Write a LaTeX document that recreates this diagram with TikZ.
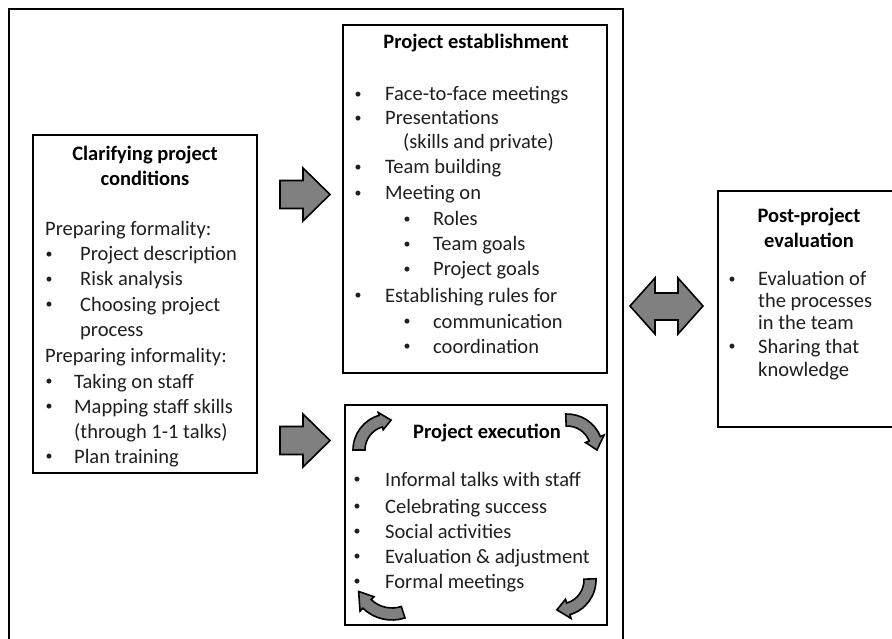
\documentclass[tikz,border=0pt]{standalone}
\usepackage{fontspec}
\setmainfont{Carlito}
\usetikzlibrary{calc}
\definecolor{txt}{rgb}{0.12,0.12,0.12}
\definecolor{arrfill}{rgb}{0.50,0.50,0.50}
\newcommand{\curvedarrow}[9]{%
% #1 cx, #2 cy, #3 r1, #4 r2, #5 e (head overhang), #6 tail angle, #7 head base angle, #8 tip angle, #9 name
\path (#1,#2) coordinate (#9);
\draw[blockarrow, shift={(#9)}]
  (#6:#4 pt) arc[start angle=#6, end angle=#7, radius=#4 pt]
  -- (#7:#4 pt + #5 pt) -- (#8:#3 pt/2 + #4 pt/2) -- (#7:#3 pt - #5 pt)
  -- (#7:#3 pt) arc[start angle=#7, end angle=#6, radius=#3 pt] -- cycle;}
\newcommand{\bl}{\raisebox{2.2pt}{\fontsize{14}{16}\selectfont •}}
\begin{document}
\begin{tikzpicture}[x=1pt,y=-1pt,
  box/.style={draw=black, line width=2.4pt, fill=white, inner sep=0pt},
  blockarrow/.style={draw=black, line width=1.6pt, fill=arrfill, line join=miter},
  ln/.style={anchor=base west, inner sep=0pt, font=\fontsize{20.5}{24}\selectfont, text=txt},
  ttl/.style={anchor=base, inner sep=0pt, font=\fontsize{20.5}{24}\selectfont\bfseries, text=black},
  bul/.style={anchor=base, inner sep=0pt, font=\fontsize{20.5}{24}\selectfont, text=txt}]
\useasboundingbox (0,0) rectangle (892,639);
\fill[white] (0,0) rectangle (892,639);

% outer frame (bottom edge lies below the picture)
\draw[line width=2.6pt] (9,650) -- (9,9) -- (623,9) -- (623,650);

% boxes
\node[box, minimum width=224pt, minimum height=338pt] (clar) at (145,304) {};
\node[box, minimum width=264pt, minimum height=348pt] (est) at (475,199) {};
\node[box, minimum width=262pt, minimum height=220pt] (exe) at (476,515) {};
\node[box, minimum width=200pt, minimum height=236pt] (post) at (818,309) {};

% Clarifying project conditions
\node[ttl] (c0) at (145,161) {Clarifying project};
\node[ttl] (c1) at (145,186) {conditions};
\node[ln] (c2) at (45,236) {Preparing formality:};
\node[bul] (cb1) at (49,261) {\bl}; \node[ln] (c3) at (80,261) {Project description};
\node[bul] (cb2) at (49,286) {\bl}; \node[ln] (c4) at (80,286) {Risk analysis};
\node[bul] (cb3) at (49,311) {\bl}; \node[ln] (c5) at (80,311) {Choosing project};
\node[ln] (c6) at (80,336) {process};
\node[ln] (c7) at (45,362) {Preparing informality:};
\node[bul] (cb4) at (49,388) {\bl}; \node[ln] (c8) at (74,388) {Taking on staff};
\node[bul] (cb5) at (49,413) {\bl}; \node[ln] (c9) at (74,413) {Mapping staff skills};
\node[ln] (c10) at (74,438) {(through 1-1 talks)};
\node[bul] (cb6) at (49,463) {\bl}; \node[ln] (c11) at (74,463) {Plan training};

% Project establishment
\node[ttl] (e0) at (476,49) {Project establishment};
\node[bul] (eb1) at (358,101) {\bl}; \node[ln] (e1) at (385,101) {Face-to-face meetings};
\node[bul] (eb2) at (358,125) {\bl}; \node[ln] (e2) at (385,125) {Presentations};
\node[ln] (e3) at (403,149) {(skills and private)};
\node[bul] (eb3) at (358,174) {\bl}; \node[ln] (e4) at (385,174) {Team building};
\node[bul] (eb4) at (358,200) {\bl}; \node[ln] (e5) at (385,200) {Meeting on};
\node[bul] (eb5) at (407,226) {\bl}; \node[ln] (e6) at (433,226) {Roles};
\node[bul] (eb6) at (407,251) {\bl}; \node[ln] (e7) at (433,251) {Team goals};
\node[bul] (eb7) at (407,276) {\bl}; \node[ln] (e8) at (433,276) {Project goals};
\node[bul] (eb8) at (358,302) {\bl}; \node[ln] (e9) at (385,302) {Establishing rules for};
\node[bul] (eb9) at (407,328) {\bl}; \node[ln] (e10) at (433,328) {communication};
\node[bul] (eb10) at (407,353) {\bl}; \node[ln] (e11) at (433,353) {coordination};

% Project execution
\node[ttl] (x0) at (487,438) {Project execution};
\node[bul] (xb1) at (357,486) {\bl}; \node[ln] (x1) at (385,486) {Informal talks with staff};
\node[bul] (xb2) at (357,513) {\bl}; \node[ln] (x2) at (385,513) {Celebrating success};
\node[bul] (xb3) at (357,538) {\bl}; \node[ln] (x3) at (385,538) {Social activities};
\node[bul] (xb4) at (357,563) {\bl}; \node[ln] (x4) at (385,563) {Evaluation \& adjustment};
\node[bul] (xb5) at (357,588) {\bl}; \node[ln] (x5) at (385,588) {Formal meetings};

% Post-project evaluation
\node[ttl] (p0) at (809,223) {Post-project};
\node[ttl] (p1) at (809,248) {evaluation};
\node[bul] (pb1) at (732,286) {\bl}; \node[ln] (p2) at (758,286) {Evaluation of};
\node[ln] (p3) at (758,308) {the processes};
\node[ln] (p4) at (758,329) {in the team};
\node[bul] (pb2) at (732,353) {\bl}; \node[ln] (p5) at (758,353) {Sharing that};
\node[ln] (p6) at (758,376) {knowledge};

% block arrows
\draw[blockarrow] (280,180.5) -- (303,180.5) -- (303,168) -- (330,194.5) -- (303,221) -- (303,208.5) -- (280,208.5) -- cycle;
\draw[blockarrow] (280,426.5) -- (303,426.5) -- (303,414) -- (330,440.5) -- (303,467) -- (303,454.5) -- (280,454.5) -- cycle;
\draw[blockarrow] (630,306) -- (655,278) -- (655,293) -- (678,293) -- (678,278) -- (703,306) -- (678,334) -- (678,320) -- (655,320) -- (655,334) -- cycle;

% curved arrows in the execution box
\curvedarrow{389}{450}{24}{36}{3}{180}{106}{86}{ca1}
\curvedarrow{567}{450}{24}{36}{4}{92}{22}{0}{ca2}
\curvedarrow{560}{580}{24}{36}{4}{2}{-74}{-96}{ca3}
\curvedarrow{392}{578}{30}{42}{4}{-72}{-134}{-158}{ca4}
\end{tikzpicture}
\end{document}
